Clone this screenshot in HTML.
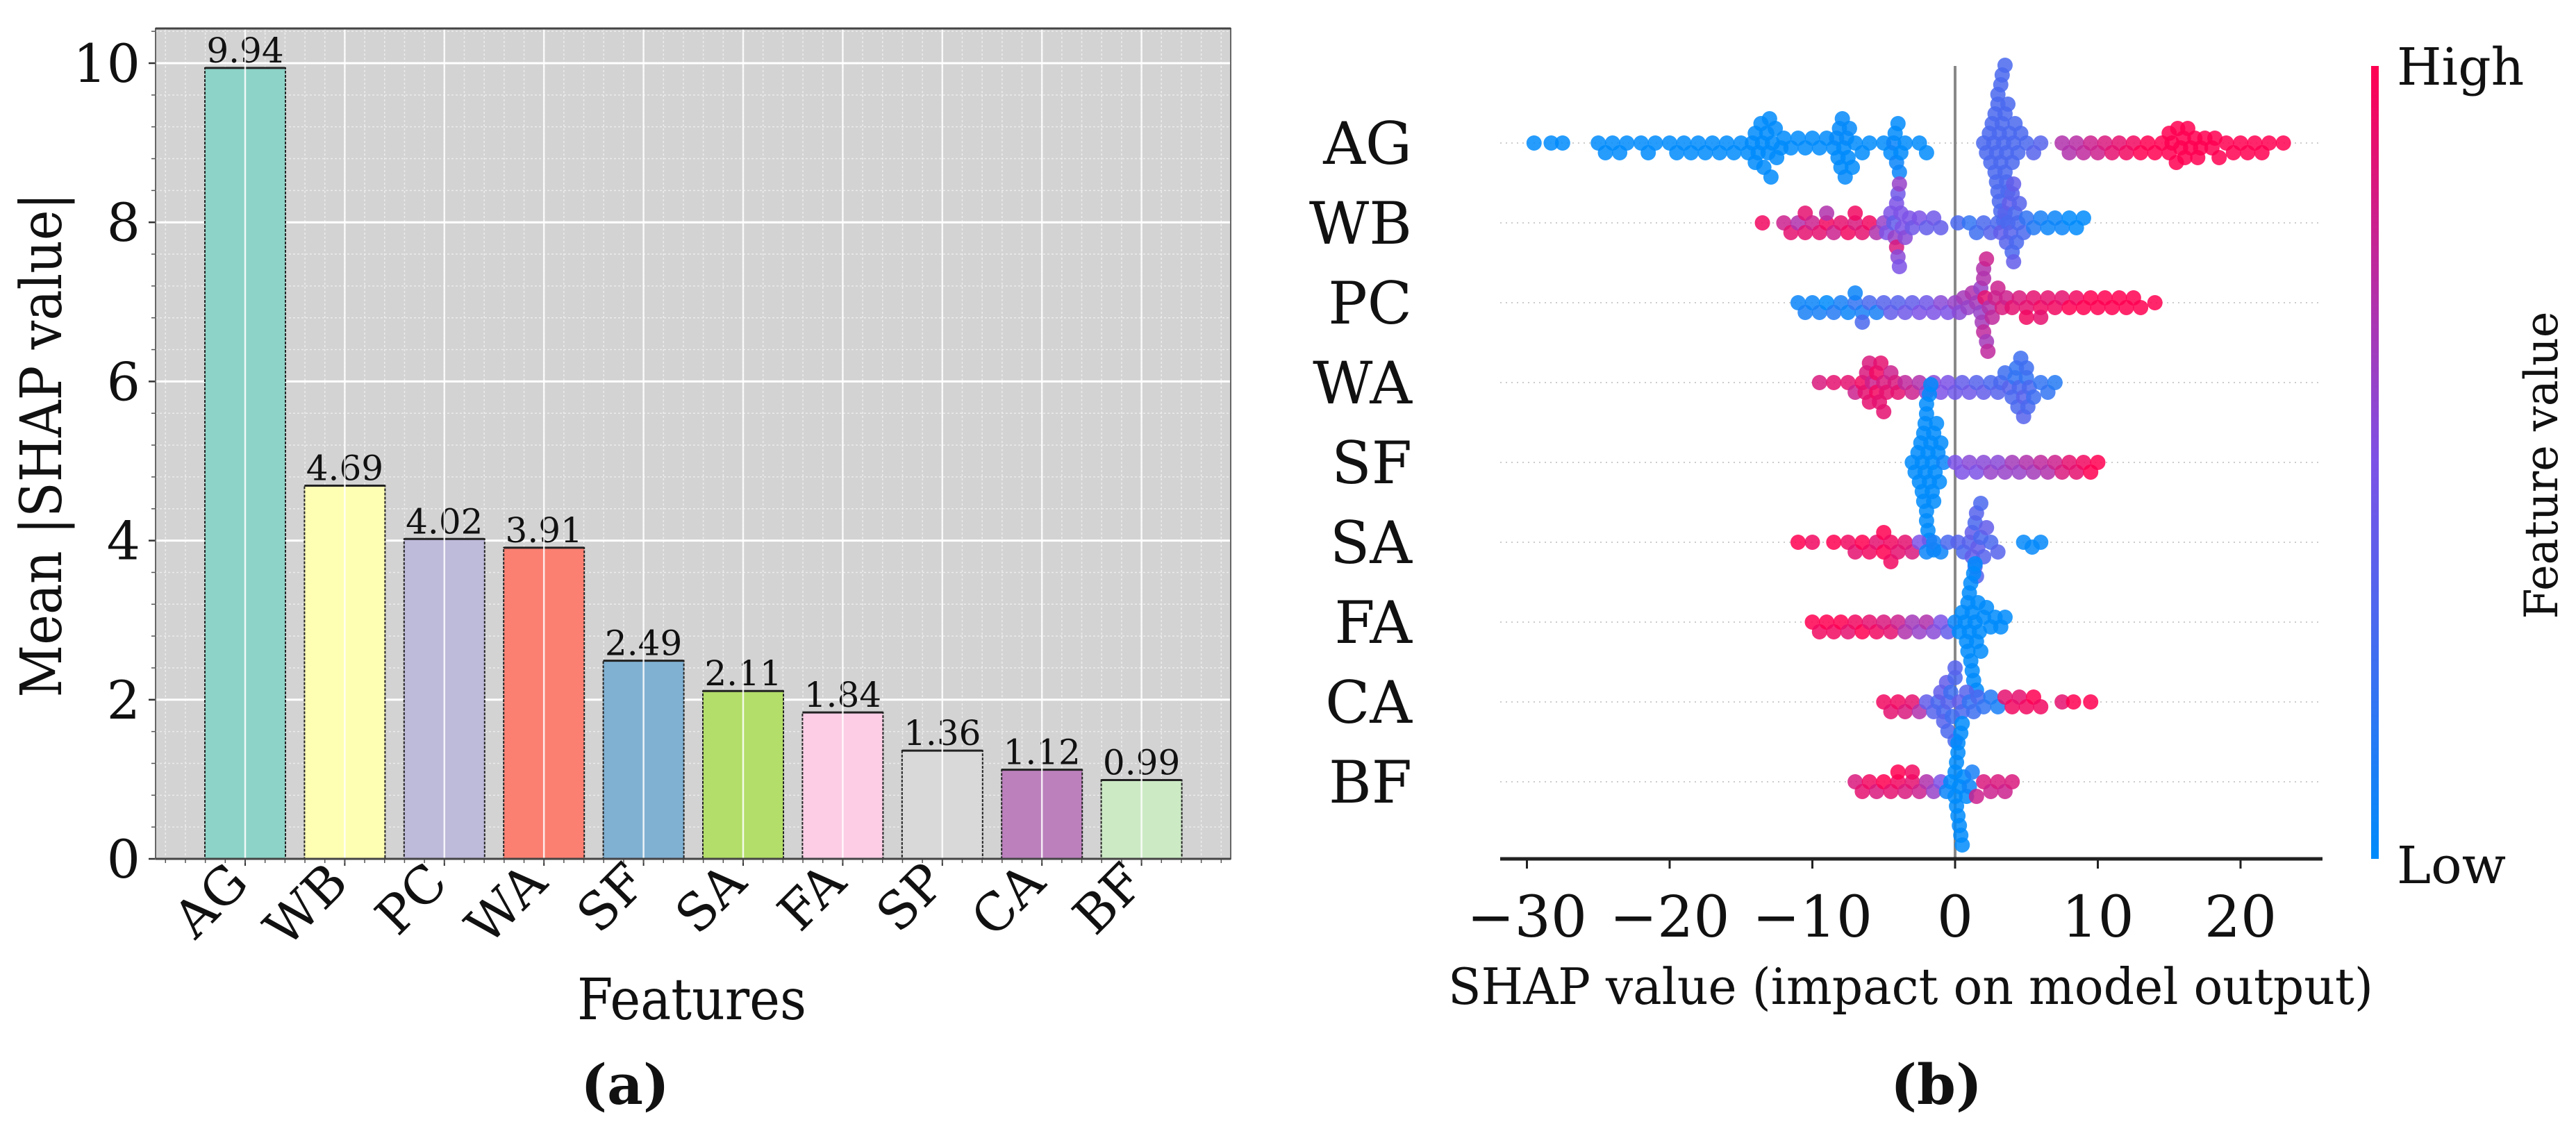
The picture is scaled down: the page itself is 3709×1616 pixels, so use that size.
<!DOCTYPE html>
<html><head><meta charset="utf-8"><style>
html,body{margin:0;padding:0;background:#fff}
svg{display:block}
text{font-family:"DejaVu Serif","Liberation Serif",serif;fill:#111}
</style></head><body>
<svg id="fig" width="3709" height="1616" viewBox="0 0 3709 1616" xmlns="http://www.w3.org/2000/svg">
<defs>
<linearGradient id="cbar" x1="0" y1="1" x2="0" y2="0">
<stop offset="0" stop-color="#008bfb"/><stop offset="0.5" stop-color="#7c52e6"/><stop offset="1" stop-color="#ff0052"/>
</linearGradient>
</defs>
<g id="left"></g>
<g id="right"></g>
<text x="900" y="1590" text-anchor="middle" font-size="80" font-weight="bold">(a)</text>
<text x="2788" y="1590" text-anchor="middle" font-size="80" font-weight="bold">(b)</text>
</svg>
<script>
// ---- Bar chart data ----
const barCategories = ["AG","WB","PC","WA","SF","SA","FA","SP","CA","BF"];
const barValues = [9.94,4.69,4.02,3.91,2.49,2.11,1.84,1.36,1.12,0.99];
const barLabels = ["9.94","4.69","4.02","3.91","2.49","2.11","1.84","1.36","1.12","0.99"];
const yTicks = [0,2,4,6,8,10];
const barColors = ["#8dd3c7","#ffffb3","#bebada","#fb8072","#80b1d3","#b3de69","#fccde5","#d9d9d9","#bc80bd","#ccebc5"];

// ---- Beeswarm data ----
const swarmFeatures = ["AG","WB","PC","WA","SF","SA","FA","CA","BF"];
const xTicksB = [-30,-20,-10,0,10,20];
const shapAG = [-29.5,-28.3,-27.5,-25,-24.5,-24,-23.5,-23,-22,-21.5,-21,-20,-19.5,-19,-18.5,-18,-17.5,-17,-16.5,-16,-15.5,-15,-14.5,-14,-13.8,-13.5,-13.2,-13,-12.8,-12.5,-12,-11.5,-11,-10.5,-10,-9.5,-9,-8.5,-8.2,-8,-7.8,-7.5,-7.2,-7,-6.5,-6,-5,-4.5,-4.2,-4,-3.8,-3.5,-2.5,-2,
 2,2.2,2.4,2.5,2.6,2.8,2.9,3,3,3.1,3.2,3.2,3.3,3.4,3.5,3.5,3.6,3.7,3.8,4,4.1,4.2,4.4,4.6,5,5.5,6,
 7.5,8,8.5,9,9.5,10,10.5,11,11.5,12,12.5,13,13.5,14,14.5,15,15.2,15.5,15.8,16,16.3,16.5,17,17.5,18,18.5,19,19.5,20,20.5,21,21.5,22,23,
 -14,-13.6,-13.4,-13.1,-12.9,-12.6,-14.2,-12.2,-8.1,-7.9,-7.6,-7.4,-7.7,-8.3,-4.1,-4.3,-3.9,
 2.7,3,3.2,3.4,2.9,3.6,3.1,3.3,3.5,2.8,3.7,
 15,15.6,16.1,16.8,17.2,18.2];
const featAG = [0,0,0,0,0,0,0,0,0,0,0,0,0,0,0,0,0,0,0,0,0,0,0,0,0,0,0,0,0,0,0,0,0,0,0,0,0,0,0,0,0,0,0,0,0,0,0,0,0,0,0,0,0,0,
 0.3,0.3,0.3,0.3,0.3,0.3,0.3,0.3,0.3,0.3,0.3,0.3,0.3,0.3,0.3,0.3,0.3,0.3,0.3,0.3,0.3,0.3,0.3,0.3,0.3,0.35,0.35,
 0.7,0.7,0.72,0.75,0.8,0.8,0.85,0.9,0.9,0.95,0.95,1,1,1,1,1,1,1,1,1,1,1,1,1,1,1,1,1,1,1,1,1,1,1,
 0,0,0,0,0,0,0,0,0.02,0.02,0.02,0.02,0.02,0.02,0.05,0.05,0.05,
 0.3,0.3,0.3,0.3,0.3,0.3,0.3,0.3,0.3,0.3,0.3,
 1,1,1,1,1,1];
const shapWB = [-13.5,-12,-11.5,-11,-10.5,-10,-9.5,-9,-8.5,-8,-7.5,-7,-6.5,-6,-5.5,-5,-4.8,-4.5,-4.3,-4.1,-4,-3.9,-3.7,-3.5,-3.2,-3,-2.5,-2,-1.5,-1,0.2,1,1.5,2,2.5,3,3.2,3.5,3.7,3.9,4,4.1,4.3,4.5,4.8,5,5.5,6,6.5,7,7.5,8,8.5,9,
 -4,-4.2,-3.8,-4.1,-3.9,-7,-9,-10.5,4,4.2,3.8,4.4,3.6,4.1];
const featWB = [0.95,0.8,0.9,0.7,0.9,0.8,0.9,0.95,0.8,0.9,0.95,0.85,0.9,0.95,0.7,0.6,0.5,0.5,0.4,0.5,0.45,0.6,0.5,0.55,0.5,0.45,0.5,0.4,0.45,0.4,0.3,0.2,0.25,0.3,0.35,0.3,0.4,0.35,0.3,0.35,0.3,0.4,0.3,0.35,0.3,0.2,0.15,0.1,0.05,0.05,0.05,0,0,0,
 0.55,0.6,0.5,0.85,0.5,0.95,0.7,0.9,0.35,0.3,0.4,0.3,0.35,0.4];
const shapPC = [-11,-10.5,-10,-9.5,-9,-8.5,-8,-7.5,-7,-6.5,-6,-5.5,-5,-4.5,-4,-3.5,-3,-2.5,-2,-1.5,-1,-0.5,0,0.3,0.6,0.9,1.2,1.5,1.8,2,2,2.2,2.4,2.6,2.8,3,3.3,3.6,4,4.5,5,5.5,6,6.5,7,7.5,8,8.5,9,9.5,10,10.5,11,11.5,12,12.5,13,14,
 2,2.2,1.8,2.1,1.9,2.3,-7,-6.5,5,6];
const featPC = [0.05,0.1,0.05,0.1,0,0.15,0.1,0.05,0.2,0.1,0.3,0.1,0.35,0.4,0.35,0.45,0.4,0.5,0.45,0.5,0.55,0.5,0.6,0.55,0.65,0.6,0.7,0.65,0.6,0.7,0.75,0.65,0.7,0.75,0.8,0.8,0.85,0.8,0.9,0.85,0.9,0.9,0.95,0.9,0.95,0.9,1,0.95,1,1,1,1,1,1,1,1,1,1,
 0.7,0.8,0.6,0.9,0.65,0.75,0.05,0.3,0.95,0.9];
const shapWA = [-9.5,-8.5,-7.5,-7,-6.5,-6.2,-6,-5.8,-5.5,-5.2,-5,-4.8,-4.5,-4.2,-4,-3.5,-3,-2.5,-2,-1.5,-1,-0.5,0,0.5,1,1.5,2,2.5,3,3.2,3.5,3.8,4,4.2,4.4,4.6,4.8,5,5.2,5.5,6,6.5,7,
 -5,-5.5,-6,-5.3,-6.3,4.5,5,4.8,4.3,5.1];
const featWA = [0.85,0.9,0.9,0.8,0.95,0.85,0.9,0.8,0.95,0.9,0.85,0.9,0.8,0.85,0.9,0.75,0.8,0.7,0.6,0.55,0.5,0.5,0.45,0.4,0.45,0.35,0.4,0.3,0.35,0.3,0.25,0.35,0.3,0.2,0.3,0.25,0.35,0.2,0.3,0.25,0.2,0.2,0.15,
 0.9,0.95,0.85,0.9,0.9,0.3,0.25,0.35,0.2,0.3];
const shapSF = [-3,-2.8,-2.6,-2.5,-2.4,-2.3,-2.2,-2.1,-2,-2,-1.9,-1.8,-1.8,-1.7,-1.6,-1.5,-1.5,-1.4,-1.3,-1.2,-1.1,-1,-0.8,0,0.5,1,1.5,2,2.5,3,3.5,4,4.5,5,5.5,6,6.5,7,7.5,8,8.5,9,9.5,10,
 -2,-1.8,-2.2,-1.6,-2.1,-1.9,-1.7,-2.3,-1.5,-2];
const featSF = [0,0,0,0,0,0,0,0,0,0,0,0,0,0,0,0,0,0,0,0,0,0,0.05,0.5,0.5,0.55,0.5,0.55,0.6,0.55,0.6,0.65,0.6,0.7,0.65,0.75,0.7,0.8,0.85,0.9,0.9,0.95,1,1,
 0,0,0,0,0,0,0,0,0,0];
const shapSA = [-11,-10,-8.5,-7.5,-7,-6.5,-6,-5.5,-5,-4.5,-4,-3.5,-3,-2.5,-2,-1.5,-1,-0.5,0.2,0.6,1,1.2,1.4,1.5,1.6,1.8,2,2.2,2.5,3,4.8,5.4,6,
 1.5,1.2,1.8,1.4,-4.5,-5];
const featSA = [1,0.95,1,0.95,0.9,1,0.95,0.9,1,0.95,0.9,0.9,0.85,0.5,0.05,0.1,0.05,0.3,0.35,0.3,0.35,0.4,0.3,0.35,0.4,0.3,0.35,0.4,0.3,0.35,0.02,0.02,0.02,
 0.35,0.4,0.3,0.35,0.95,1];
const shapFA = [-10,-9.5,-9,-8.5,-8,-7.5,-7,-6.5,-6,-5.5,-5,-4.5,-4,-3.5,-3,-2.5,-2,-1.5,-1,-0.5,0,0.3,0.5,0.7,0.9,1,1.1,1.2,1.3,1.4,1.5,1.6,1.8,2,2.2,2.5,2.8,3.2,3.5,
 1,1.2,1.4,0.8,1.3,1.1,1.5,0.9,1.7];
const featFA = [1,0.95,1,0.95,1,0.9,0.95,1,0.9,0.95,0.85,0.9,0.8,0.7,0.65,0.6,0.7,0.55,0.5,0.4,0.05,0,0,0,0,0,0,0,0,0,0,0,0,0,0,0,0,0,0,
 0,0,0,0,0,0,0,0,0];
const shapCA = [-5,-4.5,-4,-3.5,-3,-2.5,-2,-1.5,-1.2,-1,-0.8,-0.5,-0.3,0,0,0.3,0.5,0.8,1,1.3,1.6,2,2.5,3,3.5,4,4.5,5,5.5,6,7.5,8.3,9.5,
 -0.5,-0.8,0,-0.2,-0.6];
const featCA = [0.95,0.9,0.95,0.85,0.9,0.7,0.4,0.35,0.3,0.4,0.3,0.35,0.25,0.3,0.35,0.4,0.3,0.35,0.2,0.25,0.3,0.2,0.15,0.1,0.9,0.95,0.9,0.95,1,0.95,0.9,1,1,
 0.3,0.35,0.3,0.25,0.4];
const shapBF = [-7,-6.5,-6,-5.5,-5,-4.5,-4,-3.5,-3,-2.5,-2,-1.5,-1,-0.6,-0.3,0,0,0.1,0.2,0.3,0.4,0.5,0.6,0.8,1,1.2,1.5,2,2.5,3,3.5,4,
 0.2,0.3,0.1,0.4,0.5,0.2,-4,-3];
const featBF = [0.85,0.9,0.95,0.85,1,0.9,0.95,0.85,0.9,0.8,0.7,0.6,0.5,0.05,0,0,0,0,0,0,0,0,0,0,0.05,0.1,0.8,0.85,0.8,0.85,0.8,0.85,
 0,0,0,0,0,0,1,0.95];

const NS="http://www.w3.org/2000/svg";
function mk(tag, attrs, parent){const e=document.createElementNS(NS,tag);for(const k in attrs)e.setAttribute(k,attrs[k]);parent.appendChild(e);return e;}

// ===== Left panel =====
const L=document.getElementById('left');
const px0=224, px1=1772, py0=1237, pyTop=41;
const xsA = i => 353 + i*143.4;
const ysA = v => py0 - v*114.6;
const bw = 116;
let bg=mk('rect',{x:px0,y:pyTop,width:px1-px0,height:py0-pyTop,fill:'#d3d3d3'},L);


for(let v=0; v<=10.44; v+=0.4){
  const g=mk('line',{x1:px0,x2:px1,y1:ysA(v),y2:ysA(v),stroke:'#ececec','stroke-width':1.5,'stroke-dasharray':'3 3'},L);
  
  
}
for(let i=-0.8;i<=9.9;i+=0.2){
  const g=mk('line',{x1:xsA(i),x2:xsA(i),y1:pyTop,y2:py0,stroke:'#ececec','stroke-width':1.5,'stroke-dasharray':'3 3'},L);
  
  
}
yTicks.forEach(v=>{
  const g=mk('line',{x1:px0,x2:px1,y1:ysA(v),y2:ysA(v),stroke:'#fff','stroke-width':3},L);
  
  
});
barValues.forEach((v,i)=>{
  const r=mk('rect',{x:xsA(i)-bw/2,y:ysA(v),width:bw,height:ysA(0)-ysA(v),fill:barColors[i],stroke:'#222','stroke-width':2,'stroke-dasharray':'4 2'},L);
  
  
  mk('line',{x1:xsA(i)-bw/2,x2:xsA(i)+bw/2,y1:ysA(v),y2:ysA(v),stroke:'#222','stroke-width':3},L);
  const t=mk('text',{x:xsA(i),y:ysA(v)-8,'text-anchor':'middle','font-size':50},L);
  t.textContent=barLabels[i];
  
  
});
barCategories.forEach((c,i)=>{
  const g=mk('line',{x1:xsA(i),x2:xsA(i),y1:pyTop,y2:py0,stroke:'#fff','stroke-width':2.5,opacity:0.85},L);
  
  
  mk('line',{x1:xsA(i),x2:xsA(i),y1:py0,y2:py0+10,stroke:'#333','stroke-width':2},L);
  const t=mk('text',{x:0,y:0,'text-anchor':'end','font-size':74,transform:`translate(${xsA(i)+8},${py0+38}) rotate(-45)`},L);
  t.textContent=c;
  
  
});
for(let i=-0.8;i<=9.9;i+=0.2){ mk('line',{x1:xsA(i),x2:xsA(i),y1:py0,y2:py0+6,stroke:'#555','stroke-width':1.5},L); }
for(let v=0; v<=10.44; v+=0.4){ mk('line',{x1:px0-6,x2:px0,y1:ysA(v),y2:ysA(v),stroke:'#555','stroke-width':1.5},L); }
yTicks.forEach(v=>{
  mk('line',{x1:px0-10,x2:px0,y1:ysA(v),y2:ysA(v),stroke:'#333','stroke-width':2.5},L);
  const t=mk('text',{x:px0-22,y:ysA(v)+27,'text-anchor':'end','font-size':76},L);
  t.textContent=v;
  
  
});
mk('rect',{x:px0,y:pyTop,width:px1-px0,height:py0-pyTop,fill:'none',stroke:'#666','stroke-width':2},L);
mk('line',{x1:px0,x2:px1,y1:pyTop,y2:pyTop,stroke:'#444','stroke-width':3},L);
mk('line',{x1:px0,x2:px1,y1:py0,y2:py0,stroke:'#444','stroke-width':3},L);
let yl=mk('text',{x:0,y:0,'text-anchor':'middle','font-size':82,textLength:727,lengthAdjust:'spacingAndGlyphs',transform:'translate(88,641) rotate(-90)'},L);
yl.textContent='Mean |SHAP value|';


let xl=mk('text',{x:996,y:1468,'text-anchor':'middle','font-size':82,textLength:330,lengthAdjust:'spacingAndGlyphs'},L);
xl.textContent='Features';



// ===== Right panel =====
const R=document.getElementById('right');
const xsB = v => 2815 + v*20.55;
const rowY = i => 206 + i*115;
const rx0=2160, rx1=3344, axY=1237;
const dataRows=[[shapAG,featAG],[shapWB,featWB],[shapPC,featPC],[shapWA,featWA],[shapSF,featSF],[shapSA,featSA],[shapFA,featFA],[shapCA,featCA],[shapBF,featBF]];
function cmap(f){
  const s=[[0,139,251],[124,82,230],[255,0,82]];
  let a,b,t; if(f<0.5){a=s[0];b=s[1];t=f/0.5;}else{a=s[1];b=s[2];t=(f-0.5)/0.5;}
  return `rgb(${Math.round(a[0]+(b[0]-a[0])*t)},${Math.round(a[1]+(b[1]-a[1])*t)},${Math.round(a[2]+(b[2]-a[2])*t)})`;
}
swarmFeatures.forEach((f,i)=>{
  const g=mk('line',{x1:rx0,x2:rx1,y1:rowY(i),y2:rowY(i),stroke:'#ccc','stroke-width':2,'stroke-dasharray':'2 6'},R);
  
  
  const t=mk('text',{x:2033,y:rowY(i)+30,'text-anchor':'end','font-size':84},R);
  t.textContent=f;
  
  
});
let zl=mk('line',{x1:xsB(0),x2:xsB(0),y1:95,y2:axY,stroke:'#888','stroke-width':4},R);


const rad=11;
dataRows.forEach(([sh,fv],ri)=>{
  const placed=[];
  const idx=sh.map((v,k)=>k).sort((a,b)=>sh[a]-sh[b]);
  idx.forEach(k=>{
    const x=xsB(sh[k]);
    let off=0;
    for(let s=0;s<40;s++){
      const o=(s%2? 1:-1)*Math.ceil(s/2)*7;
      if(placed.every(p=>Math.hypot(p[0]-x,p[1]-o)>=rad*1.25)){off=o;break;}
    }
    placed.push([x,off]);
    const c=mk('circle',{cx:x,cy:rowY(ri)+off,r:rad,fill:cmap(fv[k]),'fill-opacity':0.85},R);
    
    
  });
});
let ax=mk('line',{x1:rx0,x2:rx1,y1:axY,y2:axY,stroke:'#222','stroke-width':5},R);


xTicksB.forEach(v=>{
  mk('line',{x1:xsB(v),x2:xsB(v),y1:axY,y2:axY+14,stroke:'#222','stroke-width':3},R);
  const t=mk('text',{x:xsB(v),y:axY+112,'text-anchor':'middle','font-size':82},R);
  t.textContent=(v<0?'\u2212':'')+Math.abs(v);
  
  
});
let xlb=mk('text',{x:2751,y:1446,'text-anchor':'middle','font-size':72,textLength:1332,lengthAdjust:'spacingAndGlyphs'},R);
xlb.textContent='SHAP value (impact on model output)';


let cb=mk('rect',{x:3414,y:95,width:11,height:axY-95,fill:'url(#cbar)'},R);


let hi=mk('text',{x:3451,y:122,'font-size':74},R);
hi.textContent='High';


let lo=mk('text',{x:3451,y:1272,'font-size':74},R);
lo.textContent='Low';


let fvl=mk('text',{x:0,y:0,'text-anchor':'middle','font-size':66,textLength:443,lengthAdjust:'spacingAndGlyphs',transform:'translate(3682,670) rotate(-90)'},R);
fvl.textContent='Feature value';


</script>
</body></html>
